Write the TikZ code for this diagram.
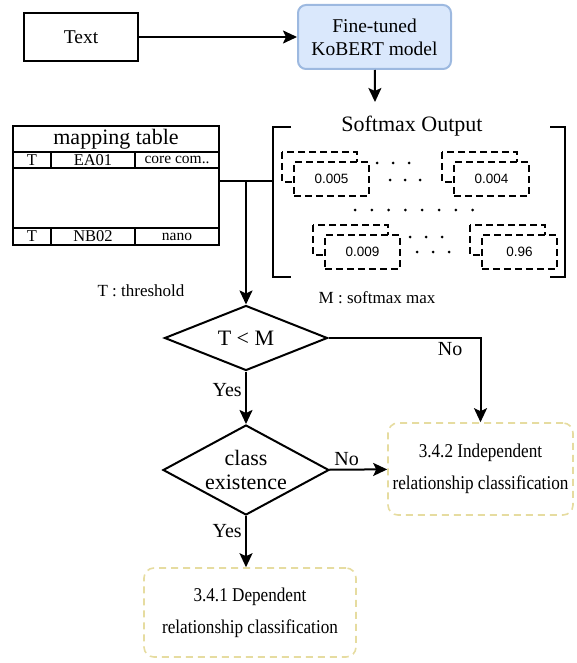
\documentclass[tikz,border=0pt]{standalone}
\usepackage{fontspec}
\setmainfont{Liberation Serif}
\setsansfont{Liberation Sans}
\newfontfamily\condserif[FakeStretch=0.88]{Liberation Serif}
\usetikzlibrary{positioning, shapes, shapes.geometric, arrows.meta, calc}
\definecolor{modelfill}{HTML}{DAE8FC}
\definecolor{modeldraw}{HTML}{9DB9E0}
\definecolor{resdraw}{HTML}{E6DCA0}

\begin{document}
\begin{tikzpicture}[x=1pt, y=-1pt, ->, >={Stealth[length=14pt,width=13pt,inset=3pt]}, line width=2pt, auto,
  inbox/.style={draw, rectangle, minimum width=114pt, minimum height=48pt, font=\fontsize{19.5}{21}\selectfont},
  model/.style={draw=modeldraw, fill=modelfill, rounded corners=8pt, minimum width=153pt, minimum height=64pt, align=center, font=\fontsize{19.5}{23}\selectfont},
  cell/.style={draw, rectangle, outer sep=0pt, inner sep=0pt, minimum height=16pt, font=\fontsize{16.5}{15}\selectfont},
  dashbox/.style={draw, dash pattern=on 7pt off 4pt, line width=1.8pt},
  decision/.style={diamond, draw, inner sep=0pt, aspect=2.5},
  result/.style={draw=resdraw, dash pattern=on 7pt off 5pt, rounded corners=10pt, line width=1.6pt, inner sep=2pt, align=center, font=\condserif\fontsize{19.5}{32}\selectfont},
  lbl/.style={font=\fontsize{20}{20}\selectfont},
  note/.style={font=\fontsize{17}{17}\selectfont}]

  \useasboundingbox (0,0) rectangle (576,663);

  \node[inbox] (txt) at (81,37) {Text};
  \node[model] (kobert) at (374.5,37) {Fine-tuned\\KoBERT model};
  \coordinate (sftop) at (375,102);

  % mapping table
  \node[cell, minimum width=206pt, minimum height=119pt] (maptab) at (116,185.5) {};
  \node[cell, minimum width=206pt, minimum height=26pt, font=\fontsize{22}{22}\selectfont] (head) at (116,139) {mapping table};
  \node[cell, minimum width=38pt] (t1) at (32,160) {T};
  \node[cell, minimum width=84pt, right=0pt of t1] (id1) {EA01};
  \node[cell, minimum width=84pt, right=0pt of id1, font=\fontsize{15.5}{15}\selectfont] (nm1) {core com..};
  \node[cell, minimum width=38pt, minimum height=17pt] (t2) at (32,236.5) {T};
  \node[cell, minimum width=84pt, minimum height=17pt, right=0pt of t2] (id2) {NB02};
  \node[cell, minimum width=84pt, minimum height=17pt, right=0pt of id2, font=\fontsize{15.5}{15}\selectfont] (nm2) {nano};

  % softmax output
  \node[font=\fontsize{22}{22}\selectfont] (smtitle) at (412,126) {Softmax Output};
  \draw[-] (291,127) -- (273,127) -- (273,277) -- (291,277);
  \draw[-] (550,127) -- (565,127) -- (565,277) -- (550,277);
  \foreach \bx/\by/\val/\nm in {282/152/0.005/sa, 442/152/0.004/sb, 313/225/0.009/sc, 470/225/0.96/sd} {
    \draw[-, dashbox] (\bx,\by) rectangle ++(75,30);
    \node[dashbox, fill=white, anchor=north west, minimum width=75pt, minimum height=34pt, text depth=-4pt, font=\sffamily\fontsize{13.5}{13.5}\selectfont] (\nm) at (\bx+11,\by+9) {\val};
  }
  \foreach \x in {0,1,2} {
    \fill (377+\x*16,163) circle (1.5pt);
    \fill (390+\x*15,180) circle (1.5pt);
    \fill (410+\x*16,237) circle (1.5pt);
    \fill (417+\x*16,252) circle (1.5pt);
  }
  \foreach \x in {0,...,7} \fill (355+\x*16.8,210) circle (1.5pt);
  \coordinate (brk) at (273,181);
  \coordinate (junc) at (246,181);

  \node[note] (tnote) at (141,291) {T : threshold};
  \node[note] (mnote) at (377,298) {M : softmax max};

  % decisions
  \node[decision, minimum width=163pt, minimum height=65pt,
    label={[font=\fontsize{22}{22}\selectfont]center:T < M}] (cond1) at (246,338) {};
  \node[decision, minimum width=166pt, minimum height=90pt,
    label={[font=\fontsize{22}{24}\selectfont, align=center]center:class\\existence}] (cond2) at (246,470) {};

  \node[result, minimum width=185pt, minimum height=92pt] (indep) at (480.5,469) {3.4.2 Independent\\relationship classification};
  \node[result, minimum width=212pt, minimum height=89pt] (dep) at (250,612.5) {3.4.1 Dependent\\relationship classification};
  \coordinate (deptop) at (dep.north -| cond2);

  \path
    (txt) edge (kobert)
    (kobert) edge (sftop)
    (junc) edge (cond1)
    (cond1) edge node[lbl, left, pos=0.35] {Yes} (cond2)
    (cond2) edge node[lbl, above, pos=0.3] {No} (indep)
    (cond2) edge node[lbl, left, pos=0.3] {Yes} (deptop);
  \draw (cond1) -| node[lbl, below, pos=0.4] {No} (indep);
  \path[-]
    ([yshift=4.5pt]maptab.east) edge (brk);

\end{tikzpicture}
\end{document}
